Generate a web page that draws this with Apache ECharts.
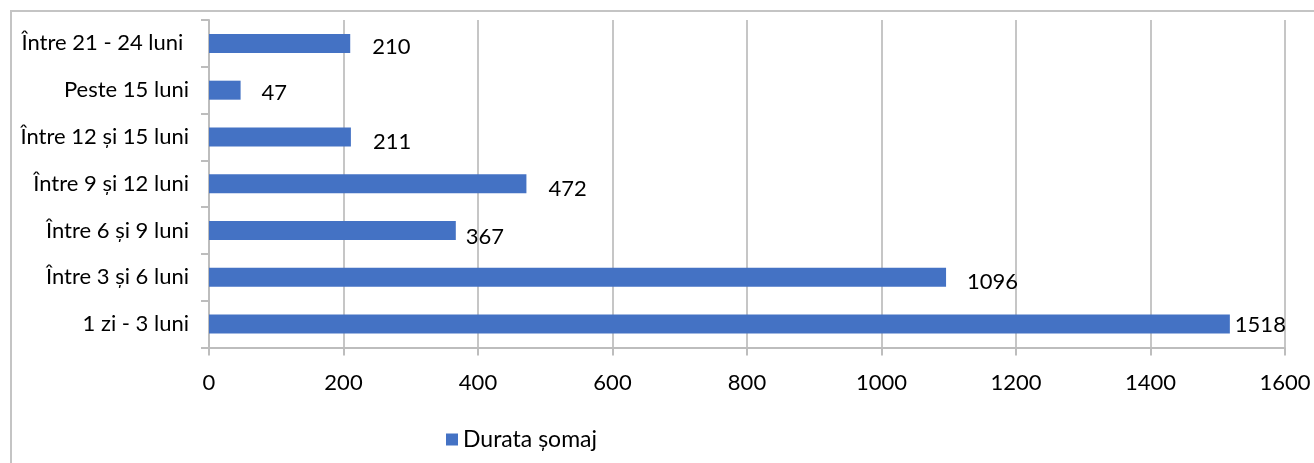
<!DOCTYPE html>
<html>
<head>
<meta charset="utf-8">
<script src="https://cdn.jsdelivr.net/npm/echarts@6/dist/echarts.min.js"></script>
<style>
  html, body { margin: 0; padding: 0; background: #fff; }
  #wrap { position: relative; width: 1314px; height: 463px; overflow: hidden; }
  #frame { position: absolute; left: 10px; top: 10px; width: 1400px; height: 500px;
           border-left: 2px solid #c4c4c4; border-top: 2px solid #c4c4c4; }
  #chart { position: absolute; left: 0; top: 0; width: 1314px; height: 463px; }
</style>
</head>
<body>
<div id="wrap">
  <div id="frame"></div>
  <div id="chart"></div>
</div>
<script>
// categories listed bottom -> top
const categories = [
  '1 zi - 3 luni',
  'Între 3 și 6 luni',
  'Între 6 și 9 luni',
  'Între 9 și 12 luni',
  'Între 12 și 15 luni',
  'Peste 15 luni',
  'Între 21 - 24 luni '
]
const values = [1518, 1096, 367, 472, 211, 47, 210]
const seriesName = 'Durata șomaj'
const xTicks = [0, 200, 400, 600, 800, 1000, 1200, 1400, 1600]

// label placement quirks (dx, dy)
const labelOffsets = [[5, 1], [21, 5], [10, 6], [22, 5], [22, 5], [21, 3], [22, 4]]

const font = 'Lato, "Open Sans", sans-serif'
const fs = 22
const chart = echarts.init(document.getElementById('chart'))

chart.setOption({
  animation: false,
  textStyle: { fontFamily: font },
  grid: { left: 209, right: 29, top: 20, bottom: 115.5, containLabel: false },
  legend: {
    data: [seriesName],
    left: 441,
    top: 423,
    itemWidth: 12,
    itemHeight: 12,
    icon: 'rect',
    textStyle: { color: '#000', fontSize: 23, fontFamily: font }
  },
  xAxis: {
    type: 'value',
    min: xTicks[0],
    max: xTicks[xTicks.length - 1],
    interval: 200,
    axisLine: { show: true, lineStyle: { color: '#bdbdbd', width: 2 } },
    axisTick: { show: true, length: 8, lineStyle: { color: '#bdbdbd', width: 2 } },
    splitLine: { show: true, lineStyle: { color: '#c6c6c6', width: 2 } },
    axisLabel: { color: '#000', fontSize: fs, margin: 24, fontFamily: font, formatter: v => String(v) }
  },
  yAxis: {
    type: 'category',
    data: categories,
    axisLine: { show: true, lineStyle: { color: '#bdbdbd', width: 2 } },
    axisTick: { show: true, length: 8, alignWithLabel: false, lineStyle: { color: '#bdbdbd', width: 2 } },
    axisLabel: { color: '#000', fontSize: fs, margin: 20, fontFamily: font }
  },
  series: [{
    name: seriesName,
    type: 'bar',
    barWidth: 19,
    itemStyle: { color: '#4472c4' },
    data: values.map((v, i) => ({
      value: v,
      label: { offset: labelOffsets[i] }
    })),
    label: {
      show: true,
      position: 'right',
      distance: 0,
      color: '#000',
      fontSize: fs,
      fontFamily: font
    }
  }]
})
</script>
</body>
</html>
